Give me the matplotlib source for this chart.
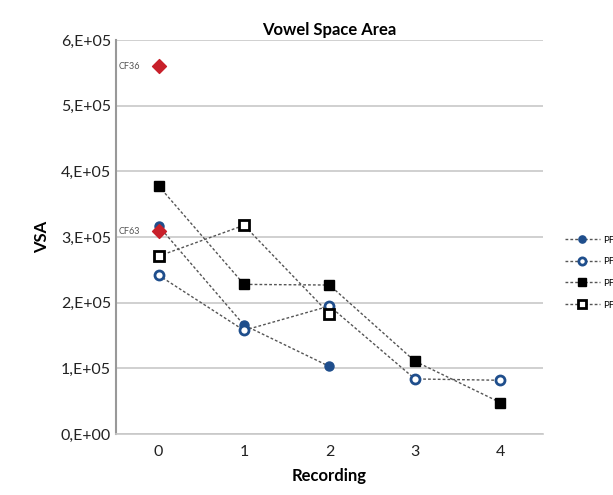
import numpy as np
import matplotlib
matplotlib.use('Agg')
import matplotlib.pyplot as plt

plt.rcParams['font.family'] = ['Lato', 'DejaVu Sans']

recording = [0, 1, 2, 3, 4]
pf1 = [3.17e5, 1.66e5, 1.03e5]
pf2 = [2.42e5, 1.58e5, 1.95e5, 0.84e5, 0.82e5]
pf3 = [3.78e5, 2.28e5, 2.27e5, 1.11e5, 0.48e5]
pf4 = [2.71e5, 3.18e5, 1.83e5]
cf_names = ['CF36', 'CF63']
cf_values = [5.60e5, 3.09e5]
y_ticks = [0, 1e5, 2e5, 3e5, 4e5, 5e5, 6e5]
y_labels = ['0,E+00', '1,E+05', '2,E+05', '3,E+05', '4,E+05', '5,E+05', '6,E+05']

blue = '#1f4e8c'
red = '#c8202a'

fig = plt.figure(figsize=(6.13, 4.95), dpi=100)
ax = fig.add_axes([0.189, 0.123, 0.697, 0.796])

line_kw = dict(ls=(0, (2, 1.5)), lw=1.0, color='#555555', markersize=6.5)
ax.plot(recording[:len(pf1)], pf1, marker='o', mfc=blue, mec=blue, label='PF1', **line_kw)
ax.plot(recording[:len(pf2)], pf2, marker='o', mfc='white', mec=blue, mew=2, label='PF2', **line_kw)
ax.plot(recording[:len(pf3)], pf3, marker='s', mfc='black', mec='black', label='PF3', **line_kw)
ax.plot(recording[:len(pf4)], pf4, marker='s', mfc='white', mec='black', mew=2, label='PF4', **line_kw)

ax.scatter([0] * len(cf_values), cf_values, marker='D', s=50, color=red, zorder=5)
for name, v in zip(cf_names, cf_values):
    ax.annotate(name, (0, v), xytext=(-13, 0), textcoords='offset points',
                ha='right', va='center', fontsize=6.5, color='#555555')

ax.set_xlim(-0.5, 4.5)
ax.set_ylim(0, 6e5)
ax.set_xticks(recording)
ax.set_yticks(y_ticks)
ax.set_yticklabels(y_labels)
ax.tick_params(length=0, labelsize=11.5, colors='#222222')
ax.tick_params(axis='x', pad=8)
ax.grid(axis='y', color='#c8c8c8', lw=1.2)
ax.set_axisbelow(True)
for s in ['top', 'right']:
    ax.spines[s].set_visible(False)
ax.spines['left'].set_color('#999999')
ax.spines['left'].set_linewidth(1.5)
ax.spines['bottom'].set_color('#c8c8c8')
ax.spines['bottom'].set_linewidth(1.2)

ax.set_title('Vowel Space Area', fontsize=12, fontweight='bold', pad=4)
ax.set_xlabel('Recording', fontsize=12, fontweight='bold', labelpad=6)
ax.set_ylabel('VSA', fontsize=12, fontweight='bold', labelpad=8)

# legend runs off the right edge, as in the original figure
leg = ax.legend(loc='center left', bbox_to_anchor=(1.03, 0.41), frameon=False,
                fontsize=7, handlelength=3.6, labelspacing=1.3, handletextpad=0.4,
                markerscale=0.8)

fig.savefig('out.png', dpi=100)
